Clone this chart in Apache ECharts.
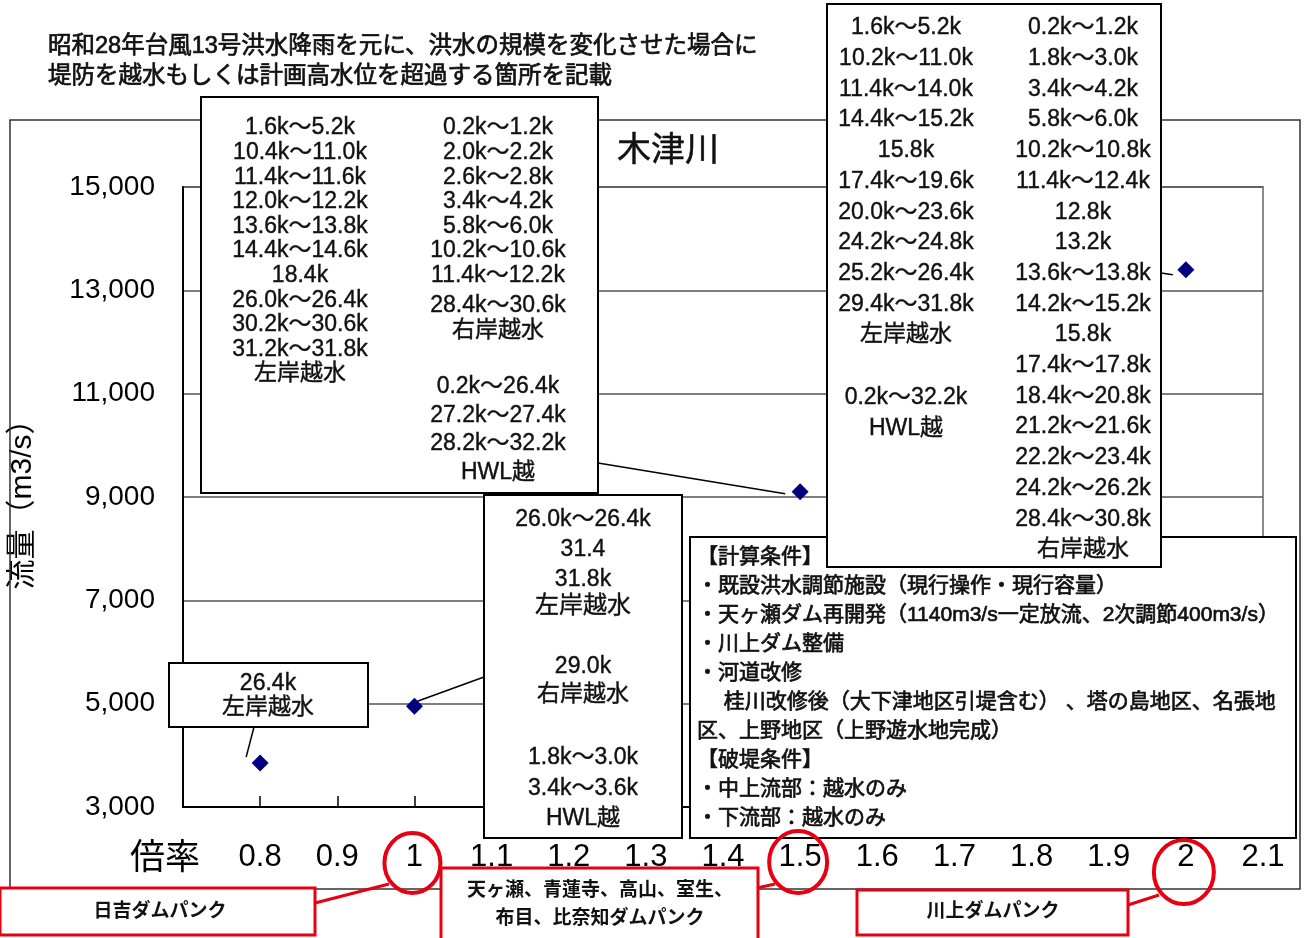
<!DOCTYPE html>
<html>
<head>
<meta charset="utf-8">
<script src="https://cdn.jsdelivr.net/npm/echarts@6/dist/echarts.min.js"></script>
<style>
  html, body { margin: 0; padding: 0; background: #fff; }
  #chart { width: 1312px; height: 938px; }
</style>
</head>
<body>
<div id="chart"></div>
<script>
// データ
const ratios = [0.8, 1.0, 1.5, 2.0];
const flows = [3850, 4950, 9100, 13400];
const xTicks = [0.8, 0.9, 1, 1.1, 1.2, 1.3, 1.4, 1.5, 1.6, 1.7, 1.8, 1.9, 2, 2.1];
const yTicks = [3000, 5000, 7000, 9000, 11000, 13000, 15000];
const panRatios = [1, 1.5, 2];
const panLabels = [['日吉ダムパンク'], ['天ヶ瀬、青蓮寺、高山、室生、', '布目、比奈知ダムパンク'], ['川上ダムパンク']];

const subtitle = ['昭和28年台風13号洪水降雨を元に、洪水の規模を変化させた場合に', '堤防を越水もしくは計画高水位を超過する箇所を記載'];
const riverName = '木津川';

// 倍率0.8
const noteD = ['26.4k', '左岸越水'];
// 倍率1.0
const noteC1 = ['26.0k～26.4k', '31.4', '31.8k'];
const noteC2 = ['29.0k', '右岸越水'];
const noteC3 = ['1.8k～3.0k', '3.4k～3.6k', 'HWL越'];
// 倍率1.5
const noteA_left = ['1.6k～5.2k', '10.4k～11.0k', '11.4k～11.6k', '12.0k～12.2k', '13.6k～13.8k', '14.4k～14.6k', '18.4k', '26.0k～26.4k', '30.2k～30.6k', '31.2k～31.8k', '左岸越水'];
const noteA_right1 = ['0.2k～1.2k', '2.0k～2.2k', '2.6k～2.8k', '3.4k～4.2k', '5.8k～6.0k', '10.2k～10.6k', '11.4k～12.2k'];
const noteA_right2 = ['28.4k～30.6k', '右岸越水'];
const noteA_right3 = ['0.2k～26.4k', '27.2k～27.4k', '28.2k～32.2k', 'HWL越'];
// 倍率2.0
const noteB_left1 = ['1.6k～5.2k', '10.2k～11.0k', '11.4k～14.0k', '14.4k～15.2k', '15.8k', '17.4k～19.6k', '20.0k～23.6k', '24.2k～24.8k', '25.2k～26.4k', '29.4k～31.8k', '左岸越水'];
const noteB_left2 = ['0.2k～32.2k', 'HWL越'];
const noteB_right = ['0.2k～1.2k', '1.8k～3.0k', '3.4k～4.2k', '5.8k～6.0k', '10.2k～10.8k', '11.4k～12.4k', '12.8k', '13.2k', '13.6k～13.8k', '14.2k～15.2k', '15.8k', '17.4k～17.8k', '18.4k～20.8k', '21.2k～21.6k', '22.2k～23.4k', '24.2k～26.2k', '28.4k～30.8k', '右岸越水'];

const conditions = ['【計算条件】', '・既設洪水調節施設（現行操作・現行容量）', '・天ヶ瀬ダム再開発（1140m3/s一定放流、2次調節400m3/s）', '・川上ダム整備', '・河道改修', '　 桂川改修後（大下津地区引堤含む） 、塔の島地区、名張地', '区、上野地区（上野遊水地完成）', '【破堤条件】', '・中上流部：越水のみ', '・下流部：越水のみ'];

const FONT = '"Liberation Sans", "Noto Sans CJK JP", sans-serif';

const chart = echarts.init(document.getElementById('chart'));
chart.setOption({
  animation: false,
  backgroundColor: '#fff',
  grid: {
    left: 180, right: 49, top: 187, bottom: 131,
    show: true, borderColor: '#8c8c8c', borderWidth: 2, backgroundColor: '#fff'
  },
  xAxis: {
    type: 'value',
    min: 0.7, max: 2.1, interval: 0.1,
    axisLine: { lineStyle: { color: '#000', width: 2 } },
    axisTick: { inside: true, length: 11, lineStyle: { color: '#000', width: 1.5 } },
    axisLabel: {
      fontSize: 31, color: '#000', fontFamily: FONT, margin: 35,
      formatter: v => {
        const r = Math.round(v * 10) / 10;
        return xTicks.includes(r) ? String(r) : '';
      }
    },
    splitLine: { show: false }
  },
  yAxis: {
    type: 'value',
    min: yTicks[0], max: yTicks[yTicks.length - 1], interval: 2000,
    name: '流量（m3/s）',
    nameLocation: 'middle', nameGap: 145, nameRotate: 90,
    nameTextStyle: { fontSize: 30, color: '#000', fontFamily: FONT },
    axisLine: { show: true, lineStyle: { color: '#000', width: 2 } },
    axisTick: { show: false },
    axisLabel: {
      fontSize: 28, color: '#000', fontFamily: FONT, margin: 28, padding: [6, 0, 0, 0],
      formatter: v => v.toLocaleString('en-US')
    },
    splitLine: { lineStyle: { color: '#555', width: 1.5 } }
  },
  series: [{
    type: 'scatter',
    data: ratios.map((r, i) => [r, flows[i]]),
    symbol: 'diamond',
    symbolSize: 17,
    itemStyle: { color: '#00007f', opacity: 1 }
  }]
});

// 注記
const px = (x, y) => chart.convertToPixel({ gridIndex: 0 }, [x, y]);
let g = [];

function box(x, y, w, h, z, stroke, lw) {
  g.push({ type: 'rect', z: z, shape: { x: x, y: y, width: w, height: h },
    style: { fill: '#fff', stroke: stroke || '#000', lineWidth: lw || 2 } });
}
function lines(arr, x, y0, dy, size, z, align, weight, sw) {
  arr.forEach((s, i) => {
    g.push({ type: 'text', z: z, x: x, y: y0 + i * dy,
      style: { text: s, fill: '#111', stroke: '#111', lineWidth: sw == null ? 0.4 : sw,
        font: (weight || 'normal') + ' ' + size + 'px ' + FONT,
        textAlign: align || 'center', align: align || 'center',
        textVerticalAlign: 'middle', verticalAlign: 'middle' } });
  });
}
function seg(a, b, z, color, w) {
  g.push({ type: 'line', z: z, shape: { x1: a[0], y1: a[1], x2: b[0], y2: b[1] },
    style: { stroke: color || '#000', lineWidth: w || 1.5 } });
}

// 外枠
g.push({ type: 'rect', z: 1, shape: { x: 10, y: 120, width: 1290, height: 769 },
  style: { fill: 'none', stroke: '#333', lineWidth: 1.5 } });

lines(subtitle, 48, 47, 30, 23.5, 5, 'left', 'normal', 0.7);
lines([riverName], 617, 152, 0, 34, 5, 'left', 'normal', 0.5);
g.push({ type: 'text', z: 5, x: 165, y: 859,
  style: { text: '倍率', fill: '#000', font: '35px ' + FONT, textAlign: 'center', align: 'center',
    textVerticalAlign: 'middle', verticalAlign: 'middle' } });

const p = ratios.map((r, i) => px(r, flows[i]));

// 引出線
seg([598, 463], [p[2][0] - 15, p[2][1] + 2], 6);
seg([1161, 273], [p[3][0] - 13, p[3][1] + 5], 6);
seg([484, 677], [p[1][0] + 3, p[1][1] - 5], 6);
seg([254, 727], [p[0][0] - 14, p[0][1] - 6], 6);

// 条件
box(690, 537, 606, 301, 10);
lines(conditions, 697, 557, 29, 21, 11, 'left', 'normal', 0.7);

// 倍率1.5
box(201, 97, 397, 396, 12);
lines(noteA_left, 300, 128, 24.6, 23, 13);
lines(noteA_right1, 498, 128, 24.6, 23, 13);
lines(noteA_right2, 498, 306, 24.5, 23, 13);
lines(noteA_right3, 498, 387, 28.5, 23, 13);

// 倍率2.0
box(827, 4, 334, 563, 14);
lines(noteB_left1, 906, 28, 30.7, 23, 15);
lines(noteB_left2, 906, 398, 30.7, 23, 15);
lines(noteB_right, 1083, 28, 30.7, 23, 15);

// 倍率1.0
box(484, 495, 198, 343, 16);
lines(noteC1, 583, 520, 30, 23, 17);
lines(['左岸越水'], 583, 606, 0, 24, 17);
lines(noteC2, 583, 667, 28, 23, 17);
lines(noteC3, 583, 758, 30.5, 23, 17);

// 倍率0.8
box(169, 663, 199, 64, 16);
lines(noteD, 268, 684, 24, 23, 17);

// ダムパンク
const panCy = [863, 862, 872];
const panR = [30, 31, 32];
panRatios.forEach((r, i) => {
  const cx = px(r, yTicks[0])[0] - 2;
  g.push({ type: 'ellipse', z: 20, shape: { cx: cx, cy: panCy[i], rx: panR[i] - 2, ry: panR[i] },
    style: { fill: 'none', stroke: '#e60012', lineWidth: 4 } });
});
box(0, 888, 315, 47, 20, '#e60012', 3);
lines(panLabels[0], 160, 912, 0, 19, 21, 'center', 'bold', 0);
box(441, 868, 317, 72, 20, '#e60012', 3);
lines(panLabels[1], 600, 891, 28, 19, 21, 'center', 'bold', 0);
box(857, 890, 271, 45, 20, '#e60012', 3);
lines(panLabels[2], 993, 912, 0, 19, 21, 'center', 'bold', 0);
seg([315, 903], [389, 884], 20, '#e60012', 3);
seg([757, 888], [775, 884], 20, '#e60012', 3);
seg([1128, 905], [1159, 895], 20, '#e60012', 3);

chart.setOption({ graphic: { elements: g } });
</script>
</body>
</html>
